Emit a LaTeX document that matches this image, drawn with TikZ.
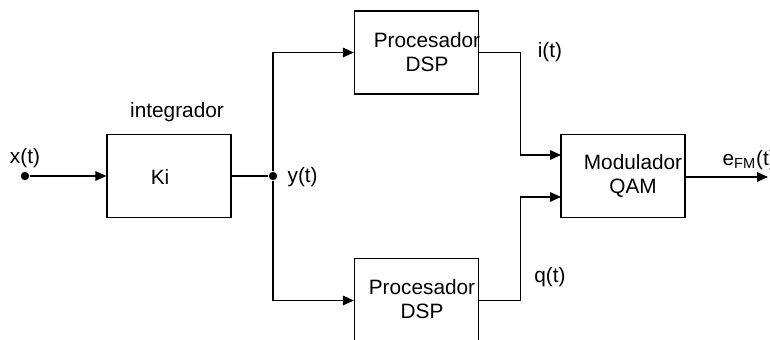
\documentclass[tikz,border=0pt]{standalone}
\usepackage{fontspec}
\setmainfont{Liberation Sans}
\usetikzlibrary{arrows.meta}

\tikzset{
  block/.style={draw, rectangle, line width=0.6pt, minimum width=62pt, minimum height=41.5pt, inner sep=0pt},
  txt/.style={align=center, inner sep=0pt},
  arr/.style={-{Triangle[length=5.5pt,width=4.8pt]}},
  dot/.style={circle, fill=black, inner sep=0pt, minimum size=4.2pt}
}

\begin{document}
\begin{tikzpicture}[x=0.5pt, y=-0.5pt, line width=0.6pt, font=\fontsize{10.4}{12}\selectfont]
\useasboundingbox (0,0) rectangle (770,340);

% blocks
\node[block] (ki) at (169,176) {};
\node[block] (dsp1) at (416.5,52.5) {};
\node[block, minimum height=42pt] (dsp2) at (416.5,300.5) {};
\node[block] (mod) at (623,176) {};

% texts inside
\node[txt] (kitxt) at (160,177) {Ki};
\node[txt] (dsp1txt) at (427,52) {Procesador\\DSP};
\node[txt] (dsp2txt) at (422,299) {Procesador\\DSP};
\node[txt] (modtxt) at (633,176) {Modulador\\QAM};

% points
\node[dot] (xin) at (25,176) {};
\node[dot] (yt) at (273,176) {};
\coordinate (modin1) at (561,155);
\coordinate (modin2) at (561,197);
\coordinate (eout) at (768,177);

% labels
\node[txt] (xlbl) at (25,158) {x(t)};
\node[txt] (intlbl) at (177,112) {integrador};
\node[txt, anchor=west] (ylbl) at (287,177) {y(t)};
\node[txt] (ilbl) at (550,52) {i(t)};
\node[txt] (qlbl) at (550,277) {q(t)};
\node[txt, anchor=west] (elbl) at (722,160) {e\textsubscript{FM}(t)};

% connectors
\draw[arr] (xin) -- (ki.west);
\draw (ki.east) -- (yt);
\draw[arr] (yt) |- (dsp1.west);
\draw[arr] (yt) |- (dsp2.west);
\draw[arr] (dsp1.east) -- ++(41,0) |- (modin1);
\draw[arr] (dsp2.east) -- ++(41,0) |- (modin2);
\draw[arr] (mod.east |- eout) -- (eout);
\end{tikzpicture}
\end{document}
